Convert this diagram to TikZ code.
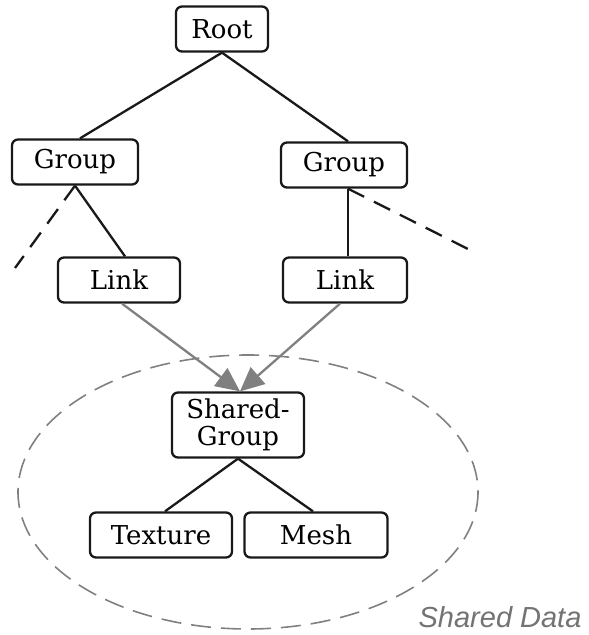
\documentclass[tikz,border=0pt]{standalone}
\usepackage{fontspec}
\setmainfont{DejaVu Serif}
\setsansfont{Liberation Sans}
\usetikzlibrary{arrows.meta}
\begin{document}
\begin{tikzpicture}[x=1pt,y=-1pt,
  box/.style={draw=black!90,line width=2.3pt,rounded corners=6pt,minimum height=45pt,inner sep=0pt,font=\fontsize{26}{27}\selectfont,align=center},
  tree/.style={line width=2.3pt,black!90},
  dashtree/.style={line width=2.3pt,black!90,dash pattern=on 18pt off 11pt},
  ref/.style={line width=2.3pt,black!50,-{Triangle[length=24pt,width=22pt]}}]
\useasboundingbox (0,0) rectangle (589,635);
\draw[black!50,line width=1.6pt,dash pattern=on 20pt off 10pt] (248,492) ellipse [x radius=230, y radius=137];
\node[box,minimum width=92pt] (root) at (222,29) {Root};
\node[box,minimum width=126pt] (g1) at (75,162) {Group};
\node[box,minimum width=126pt] (g2) at (344,165) {Group};
\node[box,minimum width=122pt] (l1) at (119,280) {Link};
\node[box,minimum width=124pt] (l2) at (345,280) {Link};
\node[box,minimum width=132pt,minimum height=65pt] (sg) at (238,425) {Shared-\\Group};
\node[box,minimum width=142pt] (tex) at (161,535) {Texture};
\node[box,minimum width=143pt] (mesh) at (316,535) {Mesh};
\node[font=\sffamily\itshape\fontsize{29}{30}\selectfont,text=black!55,anchor=east] (sd) at (585,617) {Shared Data};
\coordinate (e1) at (15,268);
\coordinate (e2) at (470,250);
\draw[tree] (root.south) -- ([xshift=5pt]g1.north);
\draw[tree] (root.south) -- ([xshift=4pt]g2.north);
\draw[tree] (g1.south) -- ([xshift=6pt]l1.north);
\draw[dashtree] (g1.south) -- (e1);
\draw[tree] ([xshift=4pt]g2.south) -- ([xshift=3pt]l2.north);
\draw[dashtree] ([xshift=4pt]g2.south) -- (e2);
\draw[ref] ([xshift=3pt]l1.south) -- ([xshift=2pt]sg.north);
\draw[ref] ([xshift=-5pt]l2.south) -- ([xshift=2pt]sg.north);
\draw[tree] (sg.south) -- ([xshift=4pt]tex.north);
\draw[tree] (sg.south) -- ([xshift=-3pt]mesh.north);
\end{tikzpicture}
\end{document}
